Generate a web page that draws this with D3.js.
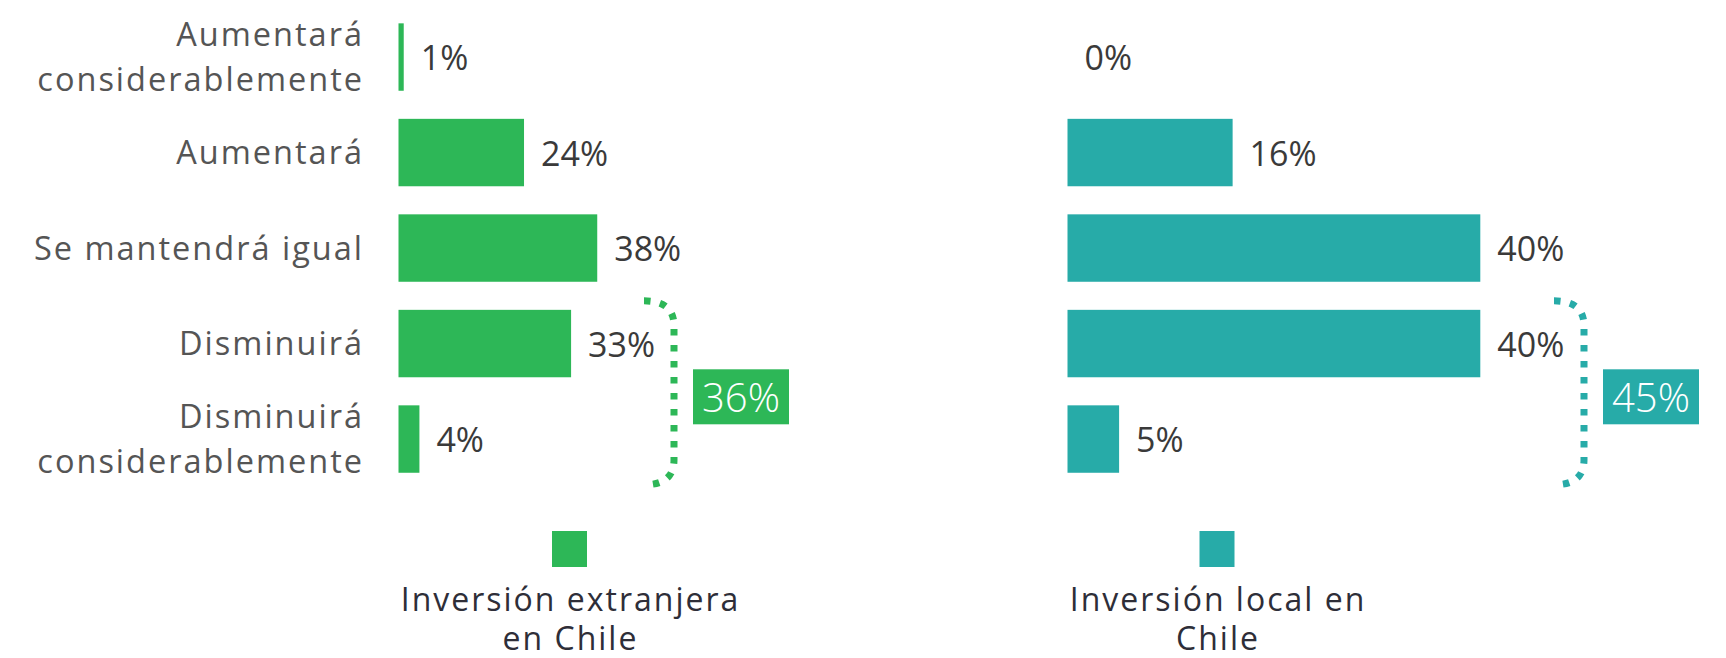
<!DOCTYPE html>
<html>
<head>
<meta charset="utf-8">
<script src="https://cdn.jsdelivr.net/npm/d3@7"></script>
<style>
    html, body { margin: 0; padding: 0; background: #fff; }
    svg { display: block; font-family: 'Open Sans', 'Noto Sans', sans-serif; }
</style>
</head>
<body>
<svg id="chart"></svg>
<script>
    const width = 1726;
    const height = 658;

    // data
    const categories = [
        ["Aumentará", "considerablemente"],
        ["Aumentará"],
        ["Se mantendrá igual"],
        ["Disminuirá"],
        ["Disminuirá", "considerablemente"]
    ];
    const foreignValues = [1, 24, 38, 33, 4];
    const localValues = [0, 16, 40, 40, 5];
    const decreaseTotals = [36, 45];
    const seriesNames = [
        ["Inversión extranjera", "en Chile"],
        ["Inversión local en", "Chile"]
    ];
    const colors = ["#2db757", "#27aba8"];

    const svg = d3.select("#chart").attr("width", width).attr("height", height);

    const keys = categories.map(d => d.join(" "));
    const y = d3.scaleBand().domain(keys).range([9.3, 486.8])
        .paddingInner(0.294).paddingOuter(0.147);

    // two panels, each with its own scale
    const panels = [
        { values: foreignValues, x: d3.scaleLinear().domain([0, 100]).range([398.5, 921.5]),
          color: colors[0], total: decreaseTotals[0], name: seriesNames[0], bracketX: 674, legendX: 569.5 },
        { values: localValues, x: d3.scaleLinear().domain([0, 100]).range([1067.5, 2099.5]),
          color: colors[1], total: decreaseTotals[1], name: seriesNames[1], bracketX: 1584, legendX: 1217 }
    ];

    // category labels
    const labelSize = 32.5;
    const capH = labelSize * 0.72;
    const lineH = 44.7;
    const catG = svg.append("g");
    categories.forEach((lines, i) => {
        const c = y(keys[i]) + y.bandwidth() / 2;
        const first = c + capH / 2 - (lines.length - 1) * lineH / 2;
        const t = catG.append("text")
            .attr("text-anchor", "end")
            .attr("font-size", labelSize)
            .attr("letter-spacing", 2)
            .attr("fill", "#555555");
        lines.forEach((l, j) => {
            t.append("tspan").attr("x", 364).attr("y", first + j * lineH).text(l);
        });
    });

    panels.forEach(p => {
        const g = svg.append("g");
        const x = p.x;

        g.selectAll("rect.bar")
            .data(p.values)
            .join("rect")
            .attr("class", "bar")
            .attr("x", x(0))
            .attr("y", (d, i) => y(keys[i]))
            .attr("width", d => x(d) - x(0))
            .attr("height", y.bandwidth())
            .attr("fill", p.color);

        g.selectAll("text.val")
            .data(p.values)
            .join("text")
            .attr("class", "val")
            .attr("x", d => x(d) + 17)
            .attr("y", (d, i) => y(keys[i]) + y.bandwidth() / 2 + 13)
            .attr("font-size", 34)
            .attr("fill", "#3a3a3a")
            .text(d => d + "%");

        // dotted bracket around the two "Disminuirá" rows
        const vx = p.bracketX;
        const top = y(keys[3]) - 9;
        const bot = y(keys[4]) + y.bandwidth() + 12;
        const bracket = d3.path();
        bracket.moveTo(vx - 30, top);
        bracket.bezierCurveTo(vx - 10, top, vx, top + 8, vx, top + 25);
        bracket.lineTo(vx, bot - 25);
        bracket.bezierCurveTo(vx, bot - 8, vx - 10, bot, vx - 30, bot);
        g.append("path")
            .attr("d", bracket.toString())
            .attr("fill", "none")
            .attr("stroke", p.color)
            .attr("stroke-width", 7)
            .attr("stroke-dasharray", "6.5 9.5");

        const boxW = 96, boxH = 55;
        const boxY = (top + bot) / 2 - boxH / 2 + 4;
        g.append("rect")
            .attr("x", vx + 19)
            .attr("y", boxY)
            .attr("width", boxW)
            .attr("height", boxH)
            .attr("fill", p.color);
        g.append("text")
            .attr("x", vx + 19 + boxW / 2)
            .attr("y", boxY + boxH / 2 + 15)
            .attr("text-anchor", "middle")
            .attr("font-size", 40)
            .attr("font-weight", 300)
            .attr("fill", "#fff")
            .text(p.total + "%");

        // legend
        g.append("rect")
            .attr("x", p.legendX - 17.5)
            .attr("y", 531)
            .attr("width", 35)
            .attr("height", 36)
            .attr("fill", p.color);
        const lt = g.append("text")
            .attr("text-anchor", "middle")
            .attr("font-size", 32)
            .attr("letter-spacing", 2)
            .attr("fill", "#2e2e38");
        p.name.forEach((l, j) => {
            lt.append("tspan").attr("x", p.legendX + 1).attr("y", 611 + j * 39).text(l);
        });
    });
</script>
</body>
</html>
